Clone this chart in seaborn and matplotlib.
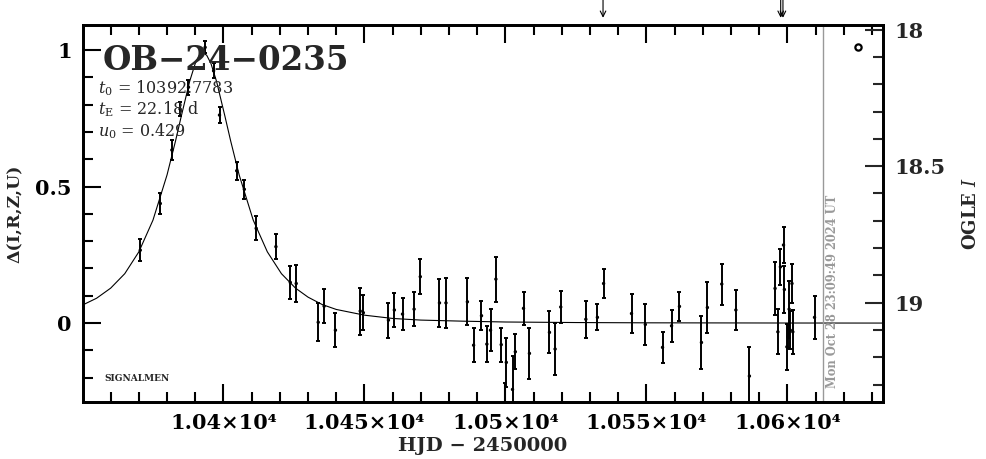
import numpy as np
import pandas as pd
import seaborn as sns
import matplotlib
matplotlib.use("Agg")
import matplotlib.pyplot as plt
from matplotlib.ticker import MultipleLocator, FixedLocator, FixedFormatter

# --- data ---
obs_t = [10370.5, 10377.6, 10381.7, 10384.6, 10387.6, 10393.5, 10396.5, 10398.6,
         10404.7, 10407.4, 10411.6, 10418.6, 10423.7, 10425.8, 10433.6, 10435.7,
         10439.7, 10448.5, 10449.6, 10458.5, 10460.6, 10463.5, 10467.6, 10469.8,
         10476.6, 10478.9, 10486.5, 10488.7, 10491.5, 10493.4, 10494.7, 10496.6,
         10498.5, 10500.3, 10499.8, 10502.5, 10503.5, 10506.4, 10508.5, 10515.6,
         10517.6, 10519.6, 10528.5, 10532.6, 10534.8, 10544.7, 10549.6, 10555.7,
         10558.9, 10561.7, 10569.5, 10571.6, 10576.7, 10581.7, 10586.5, 10595.6,
         10596.6, 10597.5, 10598.6, 10598.9, 10599.8, 10600.2, 10600.6, 10601.0,
         10601.6, 10601.9, 10609.6]
obs_d = [0.267, 0.438, 0.634, 0.784, 0.864, 1.010, 0.924, 0.762,
         0.558, 0.490, 0.347, 0.280, 0.149, 0.145, 0.003, 0.062,
         -0.026, 0.044, 0.038, 0.011, 0.048, 0.033, 0.051, 0.170,
         0.074, 0.074, 0.078, -0.081, 0.027, -0.077, -0.026, 0.161,
         -0.079, -0.144, -0.330, -0.243, -0.105, 0.054, -0.111, -0.034,
         -0.095, 0.059, 0.014, 0.021, 0.145, 0.035, -0.005, -0.089,
         -0.010, 0.061, -0.071, 0.057, 0.143, 0.048, -0.194, 0.127,
         -0.032, 0.206, 0.286, 0.123, -0.087, -0.050, 0.051, -0.026,
         0.145, -0.032, 0.021]
obs_err = [0.041, 0.037, 0.037, 0.027, 0.027, 0.022, 0.027, 0.030,
           0.033, 0.034, 0.044, 0.046, 0.060, 0.066, 0.070, 0.062,
           0.062, 0.086, 0.065, 0.064, 0.063, 0.059, 0.062, 0.063,
           0.087, 0.092, 0.086, 0.063, 0.053, 0.067, 0.078, 0.082,
           0.062, 0.090, 0.110, 0.123, 0.064, 0.060, 0.093, 0.077,
           0.095, 0.060, 0.068, 0.048, 0.054, 0.073, 0.076, 0.058,
           0.058, 0.054, 0.098, 0.095, 0.075, 0.075, 0.107, 0.096,
           0.082, 0.067, 0.067, 0.085, 0.085, 0.043, 0.105, 0.070,
           0.070, 0.080, 0.078]

# model curve samples
model_t = [10350, 10355, 10360, 10365, 10370, 10375, 10380, 10383, 10385, 10388,
           10390, 10391.5, 10392.78, 10394.06, 10395.56, 10397.56, 10400.56,
           10402.56, 10405.56, 10410.56, 10415.56, 10420.56, 10425.56, 10430,
           10435, 10440, 10450, 10460, 10470, 10485, 10500, 10525, 10550,
           10600, 10634]
model_d = [0.066, 0.091, 0.128, 0.181, 0.261, 0.377, 0.543, 0.667, 0.756, 0.885,
           0.951, 0.981, 0.990, 0.981, 0.951, 0.885, 0.756,
           0.667, 0.543, 0.377, 0.261, 0.181, 0.128, 0.095,
           0.068, 0.050, 0.029, 0.017, 0.011, 0.007, 0.004, 0.002, 0.001,
           0.0003, 0.0001]

x_ticks = [10400, 10450, 10500, 10550, 10600]
x_tick_labels = ["1.04×10⁴", "1.045×10⁴", "1.05×10⁴", "1.055×10⁴", "1.06×10⁴"]
y_ticks = [0, 0.5, 1]
y_tick_labels = ["0", "0.5", "1"]
mag_ticks = [18, 18.5, 19]
mag_tick_labels = ["18", "18.5", "19"]

arrow_t = [10534.6, 10597.6, 10598.4]
now_t = 10612.7
now_label = "Mon Oct 28 23:09:49 2024 UT"
event_name = "OB−24−0235"
param_lines = [r"$t_0$ = 10392.7783", r"$t_{\rm E}$ = 22.18 d", r"$u_0$ = 0.429"]

obs = pd.DataFrame({"t": obs_t, "d": obs_d, "err": obs_err})
model = pd.DataFrame({"t": model_t, "d": model_d})

# --- plot ---
sns.set_style("ticks")
plt.rcParams["font.family"] = ["DejaVu Serif"]
plt.rcParams["mathtext.fontset"] = "dejavuserif"

fig = plt.figure(figsize=(9.86, 4.59), dpi=100)
ax = fig.add_axes([0.0842, 0.1242, 0.8114, 0.8214])

sns.lineplot(data=model, x="t", y="d", ax=ax, color="black", linewidth=0.8)
ax.errorbar(obs["t"], obs["d"], yerr=obs["err"], fmt="none", ecolor="black",
            elinewidth=1.4, capsize=1.5, capthick=1.4)
sns.scatterplot(data=obs, x="t", y="d", ax=ax, color="black", s=6,
                edgecolor="none", legend=False)

ax.set_xlim(10350.2, 10633.9)
ax.set_ylim(-0.289, 1.092)

ax.axvline(now_t, color="#999999", linewidth=1.0)
ax.text(now_t + 3.3, -0.238, now_label, rotation=90, ha="center", va="bottom",
        color="#999999", fontsize=8.3, fontweight="bold")

ax.plot([10625.1], [1.011], marker="o", markersize=4.5, markerfacecolor="none",
        markeredgecolor="black", markeredgewidth=1.6)

for ta in arrow_t:
    ax.annotate("", xy=(ta, 1.019), xycoords=("data", "axes fraction"),
                xytext=(ta, 1.068), textcoords=("data", "axes fraction"),
                arrowprops=dict(arrowstyle="->", color="black", lw=0.8,
                                shrinkA=0, shrinkB=0), annotation_clip=False)

ax.text(0.025, 0.88, event_name, transform=ax.transAxes, fontsize=23.5,
        fontweight="bold", va="baseline", ha="left")
for i, line in enumerate(param_lines):
    ax.text(0.019, 0.82 - i * 0.058, line, transform=ax.transAxes,
            fontsize=11.5, va="baseline", ha="left")
ax.text(0.027, 0.055, "SIGNALMEN", transform=ax.transAxes, fontsize=6.5,
        fontweight="bold", va="baseline", ha="left")

ax.xaxis.set_major_locator(FixedLocator(x_ticks))
ax.xaxis.set_major_formatter(FixedFormatter(x_tick_labels))
ax.xaxis.set_minor_locator(MultipleLocator(10))
ax.yaxis.set_major_locator(FixedLocator(y_ticks))
ax.yaxis.set_major_formatter(FixedFormatter(y_tick_labels))
ax.yaxis.set_minor_locator(MultipleLocator(0.1))
ax.tick_params(which="both", direction="in", top=True, right=False, width=1.5,
               labelsize=15, colors="black")
ax.tick_params(which="major", length=13, pad=8)
ax.tick_params(which="minor", length=7)
for lab in ax.get_xticklabels() + ax.get_yticklabels():
    lab.set_fontweight("bold")

ax.set_xlabel("HJD − 2450000", fontsize=14, fontweight="bold", labelpad=3)
ax.set_ylabel("Δ(I,R,Z,U)", fontsize=12.5, fontweight="bold", labelpad=8)

ax2 = ax.twinx()
ax2.set_ylim(19.364, 17.983)
ax2.yaxis.set_major_locator(FixedLocator(mag_ticks))
ax2.yaxis.set_major_formatter(FixedFormatter(mag_tick_labels))
ax2.yaxis.set_minor_locator(MultipleLocator(0.1))
ax2.tick_params(which="both", direction="in", width=1.5, labelsize=15)
ax2.tick_params(which="major", length=13, pad=8)
ax2.tick_params(which="minor", length=7)
for lab in ax2.get_yticklabels():
    lab.set_fontweight("bold")
ax2.set_ylabel(r"OGLE $\mathbf{\mathit{I}}$", fontsize=13, fontweight="bold", labelpad=12)

for a in (ax, ax2):
    for sp in a.spines.values():
        sp.set_linewidth(2)
        sp.set_color("black")

fig.savefig("out.png", dpi=100)
